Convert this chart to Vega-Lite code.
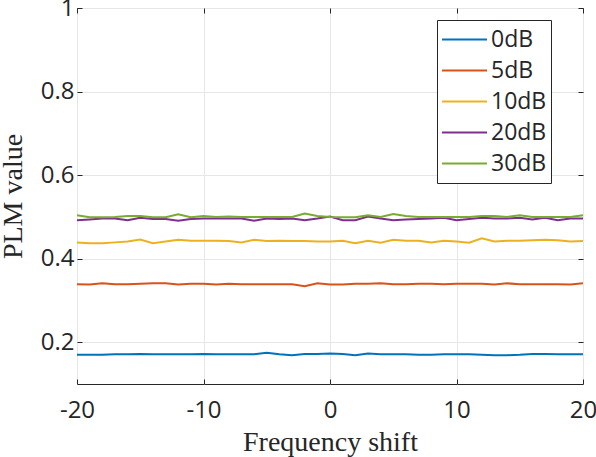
{
  "$schema": "https://vega.github.io/schema/vega-lite/v6.json",
  "autosize": "none",
  "width": 506,
  "height": 376,
  "padding": {"left": 77, "top": 8, "right": 13, "bottom": 73},
  "background": "white",
  "config": {
    "view": {"stroke": "#262626", "strokeWidth": 1},
    "font": "Open Sans",
    "axis": {
      "labelFont": "Open Sans",
      "labelFontSize": 24,
      "labelColor": "#262626",
      "labelFlush": false,
      "titleFont": "Liberation Serif",
      "titleFontSize": 28,
      "titleFontWeight": "normal",
      "titleColor": "#262626",
      "gridColor": "#e6e6e6",
      "gridWidth": 1,
      "domain": false,
      "tickColor": "#262626",
      "tickSize": -5
    }
  },
  "datasets": {
    "plm": [
      {"x": -20, "0dB": 0.170, "5dB": 0.339, "10dB": 0.439, "20dB": 0.492, "30dB": 0.504},
      {"x": -19, "0dB": 0.170, "5dB": 0.338, "10dB": 0.437, "20dB": 0.494, "30dB": 0.499},
      {"x": -18, "0dB": 0.170, "5dB": 0.341, "10dB": 0.437, "20dB": 0.496, "30dB": 0.499},
      {"x": -17, "0dB": 0.171, "5dB": 0.339, "10dB": 0.439, "20dB": 0.496, "30dB": 0.500},
      {"x": -16, "0dB": 0.171, "5dB": 0.339, "10dB": 0.441, "20dB": 0.492, "30dB": 0.502},
      {"x": -15, "0dB": 0.172, "5dB": 0.340, "10dB": 0.446, "20dB": 0.498, "30dB": 0.502},
      {"x": -14, "0dB": 0.171, "5dB": 0.341, "10dB": 0.437, "20dB": 0.495, "30dB": 0.499},
      {"x": -13, "0dB": 0.171, "5dB": 0.341, "10dB": 0.441, "20dB": 0.495, "30dB": 0.499},
      {"x": -12, "0dB": 0.171, "5dB": 0.338, "10dB": 0.445, "20dB": 0.491, "30dB": 0.506},
      {"x": -11, "0dB": 0.171, "5dB": 0.340, "10dB": 0.443, "20dB": 0.495, "30dB": 0.499},
      {"x": -10, "0dB": 0.172, "5dB": 0.340, "10dB": 0.443, "20dB": 0.496, "30dB": 0.502},
      {"x": -9, "0dB": 0.171, "5dB": 0.338, "10dB": 0.443, "20dB": 0.496, "30dB": 0.500},
      {"x": -8, "0dB": 0.171, "5dB": 0.340, "10dB": 0.442, "20dB": 0.496, "30dB": 0.501},
      {"x": -7, "0dB": 0.171, "5dB": 0.339, "10dB": 0.439, "20dB": 0.496, "30dB": 0.500},
      {"x": -6, "0dB": 0.171, "5dB": 0.339, "10dB": 0.445, "20dB": 0.491, "30dB": 0.500},
      {"x": -5, "0dB": 0.175, "5dB": 0.339, "10dB": 0.442, "20dB": 0.496, "30dB": 0.500},
      {"x": -4, "0dB": 0.171, "5dB": 0.339, "10dB": 0.443, "20dB": 0.495, "30dB": 0.500},
      {"x": -3, "0dB": 0.169, "5dB": 0.339, "10dB": 0.442, "20dB": 0.496, "30dB": 0.500},
      {"x": -2, "0dB": 0.172, "5dB": 0.334, "10dB": 0.442, "20dB": 0.492, "30dB": 0.508},
      {"x": -1, "0dB": 0.172, "5dB": 0.341, "10dB": 0.441, "20dB": 0.496, "30dB": 0.502},
      {"x": 0, "0dB": 0.173, "5dB": 0.338, "10dB": 0.441, "20dB": 0.501, "30dB": 0.500},
      {"x": 1, "0dB": 0.172, "5dB": 0.338, "10dB": 0.443, "20dB": 0.492, "30dB": 0.499},
      {"x": 2, "0dB": 0.169, "5dB": 0.340, "10dB": 0.437, "20dB": 0.492, "30dB": 0.499},
      {"x": 3, "0dB": 0.173, "5dB": 0.340, "10dB": 0.443, "20dB": 0.501, "30dB": 0.504},
      {"x": 4, "0dB": 0.171, "5dB": 0.341, "10dB": 0.438, "20dB": 0.496, "30dB": 0.500},
      {"x": 5, "0dB": 0.171, "5dB": 0.339, "10dB": 0.445, "20dB": 0.492, "30dB": 0.507},
      {"x": 6, "0dB": 0.171, "5dB": 0.339, "10dB": 0.443, "20dB": 0.494, "30dB": 0.502},
      {"x": 7, "0dB": 0.170, "5dB": 0.340, "10dB": 0.443, "20dB": 0.495, "30dB": 0.500},
      {"x": 8, "0dB": 0.170, "5dB": 0.340, "10dB": 0.439, "20dB": 0.496, "30dB": 0.500},
      {"x": 9, "0dB": 0.171, "5dB": 0.339, "10dB": 0.443, "20dB": 0.498, "30dB": 0.500},
      {"x": 10, "0dB": 0.171, "5dB": 0.340, "10dB": 0.441, "20dB": 0.492, "30dB": 0.500},
      {"x": 11, "0dB": 0.171, "5dB": 0.340, "10dB": 0.438, "20dB": 0.495, "30dB": 0.500},
      {"x": 12, "0dB": 0.170, "5dB": 0.340, "10dB": 0.449, "20dB": 0.498, "30dB": 0.502},
      {"x": 13, "0dB": 0.169, "5dB": 0.338, "10dB": 0.441, "20dB": 0.496, "30dB": 0.502},
      {"x": 14, "0dB": 0.169, "5dB": 0.341, "10dB": 0.443, "20dB": 0.496, "30dB": 0.500},
      {"x": 15, "0dB": 0.170, "5dB": 0.339, "10dB": 0.443, "20dB": 0.498, "30dB": 0.504},
      {"x": 16, "0dB": 0.172, "5dB": 0.339, "10dB": 0.444, "20dB": 0.494, "30dB": 0.500},
      {"x": 17, "0dB": 0.172, "5dB": 0.339, "10dB": 0.445, "20dB": 0.498, "30dB": 0.500},
      {"x": 18, "0dB": 0.171, "5dB": 0.339, "10dB": 0.444, "20dB": 0.492, "30dB": 0.500},
      {"x": 19, "0dB": 0.171, "5dB": 0.338, "10dB": 0.441, "20dB": 0.496, "30dB": 0.500},
      {"x": 20, "0dB": 0.171, "5dB": 0.341, "10dB": 0.442, "20dB": 0.496, "30dB": 0.504}
    ]
  },
  "data": {"name": "plm"},
  "transform": [
    {"fold": ["0dB", "5dB", "10dB", "20dB", "30dB"], "as": ["series", "value"]}
  ],
  "layer": [
    {
      "mark": {"type": "line", "strokeWidth": 2, "clip": true},
      "encoding": {
        "x": {
          "field": "x",
          "type": "quantitative",
          "scale": {"domain": [-20, 20], "nice": false, "zero": false},
          "axis": {
            "values": [-20, -10, 0, 10, 20],
            "labelExpr": "'' + datum.value",
            "labelPadding": 19,
            "title": "Frequency shift",
            "titlePadding": 6
          }
        },
        "y": {
          "field": "value",
          "type": "quantitative",
          "scale": {"domain": [0.1, 1], "nice": false, "zero": false},
          "axis": {
            "values": [0.2, 0.4, 0.6, 0.8, 1],
            "format": "~g",
            "labelPadding": 8,
            "title": "PLM value",
            "titlePadding": 13
          }
        },
        "color": {
          "field": "series",
          "type": "nominal",
          "sort": ["0dB", "5dB", "10dB", "20dB", "30dB"],
          "scale": {
            "domain": ["0dB", "5dB", "10dB", "20dB", "30dB"],
            "range": ["#0072BD", "#D95319", "#EDB120", "#7E2F8E", "#77AC30"]
          },
          "legend": {
            "title": null,
            "orient": "none",
            "legendX": 360,
            "legendY": 12,
            "symbolType": "stroke",
            "symbolSize": 2025,
            "symbolStrokeWidth": 2,
            "labelFont": "Open Sans",
            "labelFontSize": 23,
            "labelColor": "#262626",
            "labelOffset": 3,
            "fillColor": "white",
            "strokeColor": "#262626",
            "padding": 4,
            "rowPadding": 0,
            "clipHeight": 31
          }
        }
      }
    },
    {
      "mark": {"type": "point", "opacity": 0},
      "encoding": {
        "x": {
          "field": "x",
          "type": "quantitative",
          "axis": {
            "orient": "top",
            "values": [-20, -10, 0, 10, 20],
            "labels": false,
            "grid": false,
            "title": null
          }
        },
        "y": {
          "field": "value",
          "type": "quantitative",
          "axis": {
            "orient": "right",
            "values": [0.2, 0.4, 0.6, 0.8, 1],
            "labels": false,
            "grid": false,
            "title": null
          }
        }
      }
    }
  ],
  "resolve": {"axis": {"x": "independent", "y": "independent"}}
}
